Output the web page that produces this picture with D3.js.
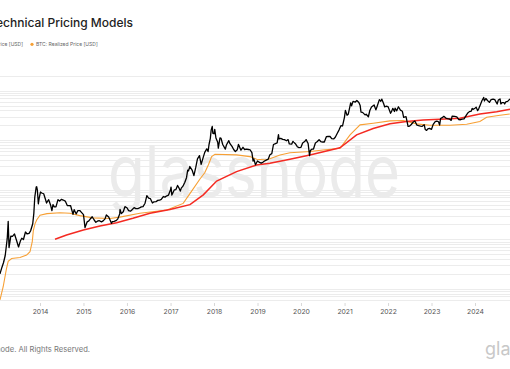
<!DOCTYPE html>
<html>
<head>
<meta charset="utf-8">
<script src="https://cdn.jsdelivr.net/npm/d3@7"></script>
<style>
  html, body { margin: 0; padding: 0; background: #fff; }
  svg { display: block; font-family: Inter, "Open Sans", sans-serif; }
</style>
</head>
<body>
<div id="chart"></div>
<script>
// x-axis labels (years)
const yearTicks = [2014, 2015, 2016, 2017, 2018, 2019, 2020, 2021, 2022, 2023, 2024];

// BTC: Price [USD]
const btcPrice = [
  ["2013-01-30", 20], ["2013-02-15", 27], ["2013-03-01", 34], ["2013-03-15", 47], ["2013-04-01", 104],
  ["2013-04-09", 230], ["2013-04-16", 68], ["2013-05-01", 116], ["2013-05-15", 114], ["2013-06-01", 128],
  ["2013-06-15", 100], ["2013-07-05", 70], ["2013-07-20", 92], ["2013-08-01", 105], ["2013-08-15", 99],
  ["2013-09-01", 140], ["2013-09-15", 128], ["2013-10-01", 132], ["2013-10-15", 150], ["2013-11-01", 206],
  ["2013-11-10", 330], ["2013-11-18", 700], ["2013-11-30", 1130], ["2013-12-04", 1150], ["2013-12-10", 980],
  ["2013-12-18", 520], ["2013-12-25", 680], ["2014-01-05", 900], ["2014-01-15", 860], ["2014-02-01", 830],
  ["2014-02-15", 650], ["2014-02-25", 540], ["2014-03-01", 560], ["2014-03-15", 630], ["2014-04-01", 480],
  ["2014-04-11", 380], ["2014-04-20", 500], ["2014-05-01", 450], ["2014-05-15", 450], ["2014-06-01", 630],
  ["2014-06-15", 590], ["2014-07-01", 640], ["2014-07-15", 620], ["2014-08-01", 590], ["2014-08-18", 480],
  ["2014-09-01", 480], ["2014-09-15", 475], ["2014-10-05", 320], ["2014-10-15", 395], ["2014-11-01", 325],
  ["2014-11-15", 380], ["2014-12-01", 380], ["2014-12-15", 350], ["2015-01-01", 315], ["2015-01-14", 172],
  ["2015-02-01", 225], ["2015-02-15", 235], ["2015-03-01", 260], ["2015-03-15", 285], ["2015-04-01", 245],
  ["2015-04-15", 220], ["2015-05-01", 235], ["2015-05-15", 237], ["2015-06-01", 225], ["2015-06-15", 235],
  ["2015-07-01", 258], ["2015-07-12", 310], ["2015-08-01", 281], ["2015-08-24", 210], ["2015-09-01", 228],
  ["2015-09-15", 230], ["2015-10-01", 237], ["2015-10-15", 255], ["2015-11-01", 325], ["2015-11-04", 400],
  ["2015-11-15", 330], ["2015-12-01", 360], ["2015-12-15", 455], ["2016-01-01", 433], ["2016-01-15", 380],
  ["2016-02-01", 370], ["2016-02-15", 400], ["2016-03-01", 435], ["2016-03-15", 415], ["2016-04-01", 417],
  ["2016-04-15", 430], ["2016-05-01", 450], ["2016-05-15", 455], ["2016-06-01", 535], ["2016-06-16", 760],
  ["2016-07-01", 675], ["2016-07-15", 665], ["2016-08-02", 540], ["2016-08-15", 570], ["2016-09-01", 575],
  ["2016-09-15", 610], ["2016-10-01", 615], ["2016-10-15", 640], ["2016-11-01", 730], ["2016-11-15", 710],
  ["2016-12-01", 755], ["2016-12-15", 780], ["2017-01-01", 1000], ["2017-01-05", 1130], ["2017-01-12", 780],
  ["2017-02-01", 990], ["2017-02-15", 1010], ["2017-03-01", 1220], ["2017-03-10", 1120], ["2017-03-24", 940],
  ["2017-04-01", 1080], ["2017-04-15", 1180], ["2017-05-01", 1420], ["2017-05-15", 1750], ["2017-05-25", 2500],
  ["2017-06-01", 2400], ["2017-06-12", 2950], ["2017-07-01", 2500], ["2017-07-16", 1930], ["2017-08-01", 2850],
  ["2017-08-15", 4200], ["2017-09-01", 4900], ["2017-09-15", 3250], ["2017-10-01", 4400], ["2017-10-15", 5700],
  ["2017-11-01", 6700], ["2017-11-12", 5900], ["2017-11-20", 8200], ["2017-12-01", 10900], ["2017-12-08", 16000],
  ["2017-12-17", 19100], ["2017-12-22", 13800], ["2018-01-01", 13500], ["2018-01-07", 16500], ["2018-01-17", 11100],
  ["2018-02-01", 9100], ["2018-02-06", 6900], ["2018-02-20", 11200], ["2018-03-01", 10900], ["2018-03-15", 8200],
  ["2018-04-06", 6600], ["2018-04-15", 8000], ["2018-05-05", 9800], ["2018-05-15", 8500], ["2018-06-01", 7500],
  ["2018-06-15", 6500], ["2018-06-29", 5900], ["2018-07-15", 6400], ["2018-07-25", 8200], ["2018-08-01", 7600],
  ["2018-08-15", 6300], ["2018-09-01", 7200], ["2018-09-15", 6500], ["2018-10-01", 6600], ["2018-10-15", 6500],
  ["2018-11-01", 6350], ["2018-11-15", 5600], ["2018-11-25", 3800], ["2018-12-01", 4200], ["2018-12-15", 3200],
  ["2019-01-01", 3800], ["2019-01-15", 3600], ["2019-02-01", 3450], ["2019-02-15", 3600], ["2019-03-01", 3800],
  ["2019-03-15", 3950], ["2019-04-01", 4150], ["2019-04-15", 5100], ["2019-05-01", 5350], ["2019-05-15", 8200],
  ["2019-06-01", 8550], ["2019-06-15", 8800], ["2019-06-26", 13000], ["2019-07-01", 10600], ["2019-07-15", 10900],
  ["2019-08-01", 10400], ["2019-08-15", 10300], ["2019-09-01", 9750], ["2019-09-15", 10300], ["2019-09-25", 8400],
  ["2019-10-15", 8350], ["2019-10-26", 9500], ["2019-11-01", 9150], ["2019-11-15", 8500], ["2019-12-01", 7400],
  ["2019-12-15", 7100], ["2020-01-01", 7200], ["2020-01-15", 8800], ["2020-02-01", 9400], ["2020-02-13", 10300],
  ["2020-03-01", 8600], ["2020-03-13", 4900], ["2020-03-20", 6200], ["2020-04-01", 6600], ["2020-04-15", 6650],
  ["2020-05-01", 8800], ["2020-05-15", 9300], ["2020-06-01", 10200], ["2020-06-15", 9400], ["2020-07-01", 9200],
  ["2020-07-15", 9200], ["2020-08-01", 11800], ["2020-08-15", 11900], ["2020-09-01", 11900], ["2020-09-15", 10800],
  ["2020-10-01", 10600], ["2020-10-15", 11500], ["2020-11-01", 13800], ["2020-11-15", 16000], ["2020-12-01", 19700],
  ["2020-12-15", 19400], ["2020-12-31", 29000], ["2021-01-08", 40000], ["2021-01-22", 32000], ["2021-02-01", 33500],
  ["2021-02-15", 48000], ["2021-02-21", 57000], ["2021-03-01", 49500], ["2021-03-13", 61000], ["2021-04-01", 59000],
  ["2021-04-14", 63500], ["2021-05-01", 57800], ["2021-05-12", 50000], ["2021-05-19", 37000], ["2021-06-01", 36500],
  ["2021-06-22", 32500], ["2021-07-01", 33500], ["2021-07-20", 29800], ["2021-08-01", 39800], ["2021-08-15", 47000],
  ["2021-09-06", 51500], ["2021-09-21", 41000], ["2021-10-01", 48000], ["2021-10-20", 66000], ["2021-11-01", 61300],
  ["2021-11-10", 67500], ["2021-11-26", 53800], ["2021-12-04", 47000], ["2021-12-15", 48500], ["2022-01-01", 47700],
  ["2022-01-22", 35000], ["2022-02-01", 38700], ["2022-02-10", 44000], ["2022-02-24", 38000], ["2022-03-01", 44300],
  ["2022-03-15", 39300], ["2022-03-29", 47400], ["2022-04-15", 40500], ["2022-05-01", 38500], ["2022-05-12", 28900],
  ["2022-06-01", 29800], ["2022-06-18", 19000], ["2022-07-01", 19300], ["2022-07-15", 20800], ["2022-08-01", 23300],
  ["2022-08-14", 24400], ["2022-09-01", 20100], ["2022-09-15", 19700], ["2022-10-01", 19300], ["2022-10-15", 19100],
  ["2022-11-01", 20500], ["2022-11-09", 16500], ["2022-11-21", 15800], ["2022-12-01", 17000], ["2022-12-15", 17400],
  ["2023-01-01", 16600], ["2023-01-15", 20900], ["2023-02-01", 23700], ["2023-02-15", 24300], ["2023-03-01", 23600],
  ["2023-03-10", 20200], ["2023-03-18", 27400], ["2023-04-01", 28500], ["2023-04-14", 30400], ["2023-05-01", 28000],
  ["2023-05-15", 27200], ["2023-06-01", 26800], ["2023-06-15", 25100], ["2023-06-23", 30700], ["2023-07-15", 30300],
  ["2023-08-01", 29700], ["2023-08-18", 26100], ["2023-09-01", 25900], ["2023-09-15", 26600], ["2023-10-01", 27000],
  ["2023-10-23", 33000], ["2023-11-01", 35400], ["2023-11-15", 37800], ["2023-12-01", 38700], ["2023-12-08", 44000],
  ["2023-12-15", 42000], ["2024-01-01", 44200], ["2024-01-11", 46600], ["2024-01-23", 39500], ["2024-02-01", 43000],
  ["2024-02-15", 52000], ["2024-02-28", 62500], ["2024-03-14", 73100], ["2024-03-20", 62000], ["2024-04-01", 69700],
  ["2024-04-15", 63400], ["2024-05-01", 58000], ["2024-05-15", 66200], ["2024-06-01", 67700], ["2024-06-15", 66200],
  ["2024-07-05", 54000], ["2024-07-15", 64800], ["2024-07-29", 68200], ["2024-08-05", 54000], ["2024-08-15", 57500],
  ["2024-09-01", 57300], ["2024-09-06", 53900], ["2024-09-15", 59200], ["2024-10-01", 60800], ["2024-10-15", 66000],
  ["2024-10-22", 67400]
];

// BTC: Realized Price [USD]
const realizedPrice = [
  ["2013-01-30", 6], ["2013-02-26", 11], ["2013-03-26", 26], ["2013-04-09", 36], ["2013-05-08", 41],
  ["2013-07-17", 43], ["2013-09-11", 48], ["2013-10-09", 56], ["2013-10-28", 90], ["2013-11-06", 150],
  ["2013-11-20", 205], ["2013-12-04", 245], ["2014-01-01", 305], ["2014-03-01", 330], ["2014-06-17", 344],
  ["2014-09-10", 335], ["2014-12-01", 300], ["2015-03-21", 270], ["2015-08-11", 262], ["2015-11-02", 280],
  ["2016-04-19", 335], ["2016-12-01", 390], ["2017-04-17", 530], ["2017-06-14", 846], ["2017-09-05", 1650],
  ["2017-10-15", 2200], ["2017-11-15", 3200], ["2017-12-12", 4670], ["2018-01-09", 5200], ["2018-07-09", 5050],
  ["2018-10-29", 4670], ["2018-12-25", 4130], ["2019-03-17", 4000], ["2019-07-09", 5050], ["2019-10-01", 5600],
  ["2020-03-18", 5900], ["2020-07-05", 6360], ["2020-11-24", 6900], ["2021-02-16", 12800], ["2021-05-11", 20400],
  ["2021-08-30", 22000], ["2022-01-17", 24600], ["2022-05-09", 25000], ["2022-08-28", 21400], ["2022-12-18", 20000],
  ["2023-06-05", 20000], ["2023-10-23", 21000], ["2024-02-11", 23800], ["2024-04-08", 29200], ["2024-07-29", 31900],
  ["2024-10-19", 33800]
];

// BTC: 200W SMA [USD] (red)
const sma200w = [
  ["2014-05-07", 100], ["2014-08-12", 122], ["2014-12-31", 154], ["2015-05-19", 185], ["2015-10-06", 216],
  ["2016-02-20", 265], ["2016-07-12", 335], ["2016-12-27", 400], ["2017-06-13", 500], ["2017-10-03", 790],
  ["2018-01-23", 1500], ["2018-07-09", 2320], ["2018-12-24", 3170], ["2019-04-15", 3430], ["2019-09-30", 4130],
  ["2020-03-16", 5050], ["2020-11-23", 7050], ["2021-04-12", 12800], ["2021-08-29", 17300], ["2022-01-17", 21400],
  ["2022-06-05", 23800], ["2022-10-23", 25700], ["2023-03-13", 26500], ["2023-08-28", 27900], ["2024-02-11", 33800],
  ["2024-07-01", 37700], ["2024-10-21", 42100]
];

const width = 510;
const height = 369;
const plotTop = 70;
const plotBottom = 303;

const parse = d3.utcParse('%Y-%m-%d');
const toPoints = (rows) => rows.map(([d, v]) => ({ date: parse(d), value: v }));

const svg = d3.select('#chart')
  .append('svg')
  .attr('width', width)
  .attr('height', height);

svg.append('rect').attr('width', width).attr('height', height).attr('fill', '#fff');

const x = d3.scaleUtc()
  .domain([new Date(Date.UTC(2014, 0, 1)), new Date(Date.UTC(2024, 0, 1))])
  .range([40, 475]);

const y = d3.scaleLog()
  .domain([10, 100000])
  .range([288.8, 90.7]);

// log gridlines over visible plot area
const gridScale = d3.scaleLog().domain([y.invert(plotBottom), y.invert(plotTop)]);
svg.append('g')
  .selectAll('line')
  .data(gridScale.ticks())
  .join('line')
  .attr('x1', 0)
  .attr('x2', width)
  .attr('y1', (d) => Math.round(y(d)) + 0.5)
  .attr('y2', (d) => Math.round(y(d)) + 0.5)
  .attr('stroke', '#ececec')
  .attr('stroke-width', 1);

// watermark
svg.append('text')
  .attr('x', 108)
  .attr('y', 197)
  .attr('textLength', 292)
  .attr('lengthAdjust', 'spacingAndGlyphs')
  .attr('fill', '#ebebeb')
  .style('font-size', '72px')
  .style('font-weight', 400)
  .text('glassnode');

// x axis
const axis = svg.append('g')
  .attr('transform', `translate(0, ${plotBottom})`)
  .call(d3.axisBottom(x)
    .tickValues(yearTicks.map((yr) => new Date(Date.UTC(yr, 0, 1))))
    .tickFormat(d3.utcFormat('%Y'))
    .tickSize(3)
    .tickPadding(3));
axis.select('.domain').remove();
axis.selectAll('line').attr('stroke', '#d8d8d8');
axis.selectAll('text')
  .attr('fill', '#555')
  .style('font-family', 'Inter, "Open Sans", sans-serif')
  .style('font-size', '6.8px');

const line = d3.line()
  .x((d) => x(d.date))
  .y((d) => y(d.value));

svg.append('path')
  .datum(toPoints(realizedPrice))
  .attr('fill', 'none')
  .attr('stroke', '#f7a035')
  .attr('stroke-width', 1.1)
  .attr('d', line);

svg.append('path')
  .datum(toPoints(sma200w))
  .attr('fill', 'none')
  .attr('stroke', '#f42a22')
  .attr('stroke-width', 1.5)
  .attr('d', line);

svg.append('path')
  .datum(toPoints(btcPrice))
  .attr('fill', 'none')
  .attr('stroke', '#000')
  .attr('stroke-width', 1.3)
  .attr('stroke-linejoin', 'round')
  .attr('d', line);

// title (cropped on the left like the reference)
svg.append('text')
  .attr('x', 133)
  .attr('y', 27)
  .attr('text-anchor', 'end')
  .attr('fill', '#222')
  .style('font-size', '12px')
  .style('font-weight', 500)
  .text('Technical Pricing Models');

// legend
const legend = svg.append('g').style('font-size', '5px').attr('fill', '#666');
legend.append('text').attr('x', 23).attr('y', 46).attr('text-anchor', 'end').text('BTC: Price [USD]');
legend.append('circle').attr('cx', 32).attr('cy', 44.3).attr('r', 1.6).attr('fill', '#f7a035');
legend.append('text').attr('x', 36).attr('y', 46).text('BTC: Realized Price [USD]');

// footer
svg.append('text')
  .attr('x', 90)
  .attr('y', 352)
  .attr('text-anchor', 'end')
  .attr('fill', '#777')
  .style('font-size', '7.6px')
  .text('© 2024 Glassnode. All Rights Reserved.');

svg.append('text')
  .attr('x', 485)
  .attr('y', 355)
  .attr('fill', '#c8c8c8')
  .style('font-size', '18px')
  .text('glassnode');
</script>
</body>
</html>
